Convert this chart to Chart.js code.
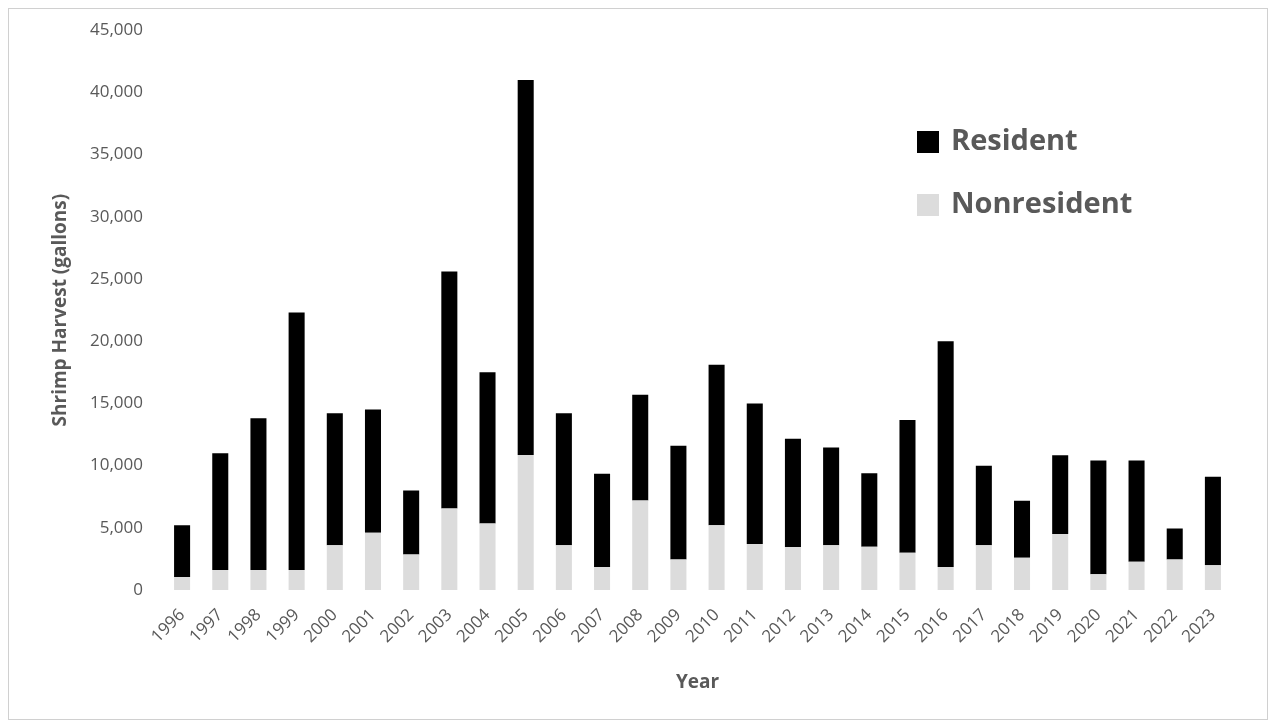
<!DOCTYPE html>
<html>
<head>
<meta charset="utf-8">
<script src="https://cdn.jsdelivr.net/npm/chart.js@4.4.1/dist/chart.umd.min.js"></script>
<style>
  html, body { margin: 0; padding: 0; background: #ffffff; }
  #wrap { position: absolute; left: 0; top: 0; width: 1272px; height: 728px; }
</style>
</head>
<body>
<div id="wrap"><canvas id="c" width="1272" height="728"></canvas></div>
<script>
const years = ['1996','1997','1998','1999','2000','2001','2002','2003','2004','2005','2006','2007','2008','2009','2010','2011','2012','2013','2014','2015','2016','2017','2018','2019','2020','2021','2022','2023'];
const nonresident = [1050,1600,1600,1600,3600,4600,2850,6550,5350,10850,3600,1850,7200,2450,5200,3700,3450,3600,3480,3000,1850,3600,2600,4500,1260,2270,2460,1980];
const resident = [4150,9400,12200,20700,10600,9900,5150,19050,12150,30150,10600,7500,8500,9150,12900,11300,8700,7850,5900,10670,18150,6380,4570,6330,9140,8130,2490,7120];
const yTicks = [0,5000,10000,15000,20000,25000,30000,35000,40000,45000];

const FONT = "'Open Sans', 'DejaVu Sans', sans-serif";
const TEXT = '#595959';

const frame = {
  id: 'frame',
  beforeDraw(chart) {
    const ctx = chart.ctx;
    ctx.save();
    ctx.fillStyle = '#ffffff';
    ctx.fillRect(0, 0, chart.width, chart.height);
    ctx.strokeStyle = '#d0d0d0';
    ctx.lineWidth = 1;
    ctx.strokeRect(8.5, 8.5, 1259, 711);
    ctx.restore();
  }
};

const innerLegend = {
  id: 'innerLegend',
  afterDraw(chart) {
    const ctx = chart.ctx;
    const order = [1, 0];
    ctx.save();
    ctx.font = "bold 29px " + FONT;
    ctx.textBaseline = 'middle';
    ctx.textAlign = 'left';
    order.forEach((di, i) => {
      const ds = chart.data.datasets[di];
      const y = 142 + i * 63;
      ctx.fillStyle = ds.backgroundColor;
      ctx.fillRect(917, y - 11, 22, 22);
      ctx.fillStyle = TEXT;
      ctx.fillText(ds.label, 951, y);
    });
    ctx.restore();
  }
};

new Chart(document.getElementById('c'), {
  type: 'bar',
  data: {
    labels: years,
    datasets: [
      { label: 'Nonresident', data: nonresident, backgroundColor: '#dcdcdc', borderWidth: 0 },
      { label: 'Resident', data: resident, backgroundColor: '#000000', borderWidth: 0 }
    ]
  },
  options: {
    responsive: false,
    animation: false,
    devicePixelRatio: 1,
    layout: { padding: { left: 0, top: 30, right: 40, bottom: 0 } },
    datasets: { bar: { barPercentage: 0.42, categoryPercentage: 1.0 } },
    plugins: { legend: { display: false }, tooltip: { enabled: false } },
    scales: {
      x: {
        stacked: true,
        grid: { display: false, drawTicks: false },
        border: { display: false },
        ticks: {
          color: TEXT,
          font: { family: FONT, size: 17 },
          minRotation: 45,
          maxRotation: 45,
          padding: 15,
          autoSkip: false
        },
        title: {
          display: true,
          text: 'Year',
          color: TEXT,
          font: { family: FONT, size: 19, weight: 'bold' },
          padding: { top: 0, bottom: 34 }
        },
        afterFit(scale) { scale.height = 138; }
      },
      y: {
        stacked: true,
        min: 0,
        max: 45000,
        afterBuildTicks(scale) { scale.ticks = yTicks.map(v => ({ value: v })); },
        grid: { display: false, drawTicks: false },
        border: { display: false },
        ticks: {
          color: TEXT,
          font: { family: FONT, size: 17 },
          padding: 20,
          callback: v => v.toLocaleString('en-US')
        },
        title: {
          display: true,
          text: 'Shrimp Harvest (gallons)',
          color: TEXT,
          font: { family: FONT, size: 19, weight: 'bold' },
          padding: { top: 49, bottom: 0 }
        },
        afterFit(scale) { scale.width = 163; }
      }
    }
  },
  plugins: [frame, innerLegend]
});
</script>
</body>
</html>
